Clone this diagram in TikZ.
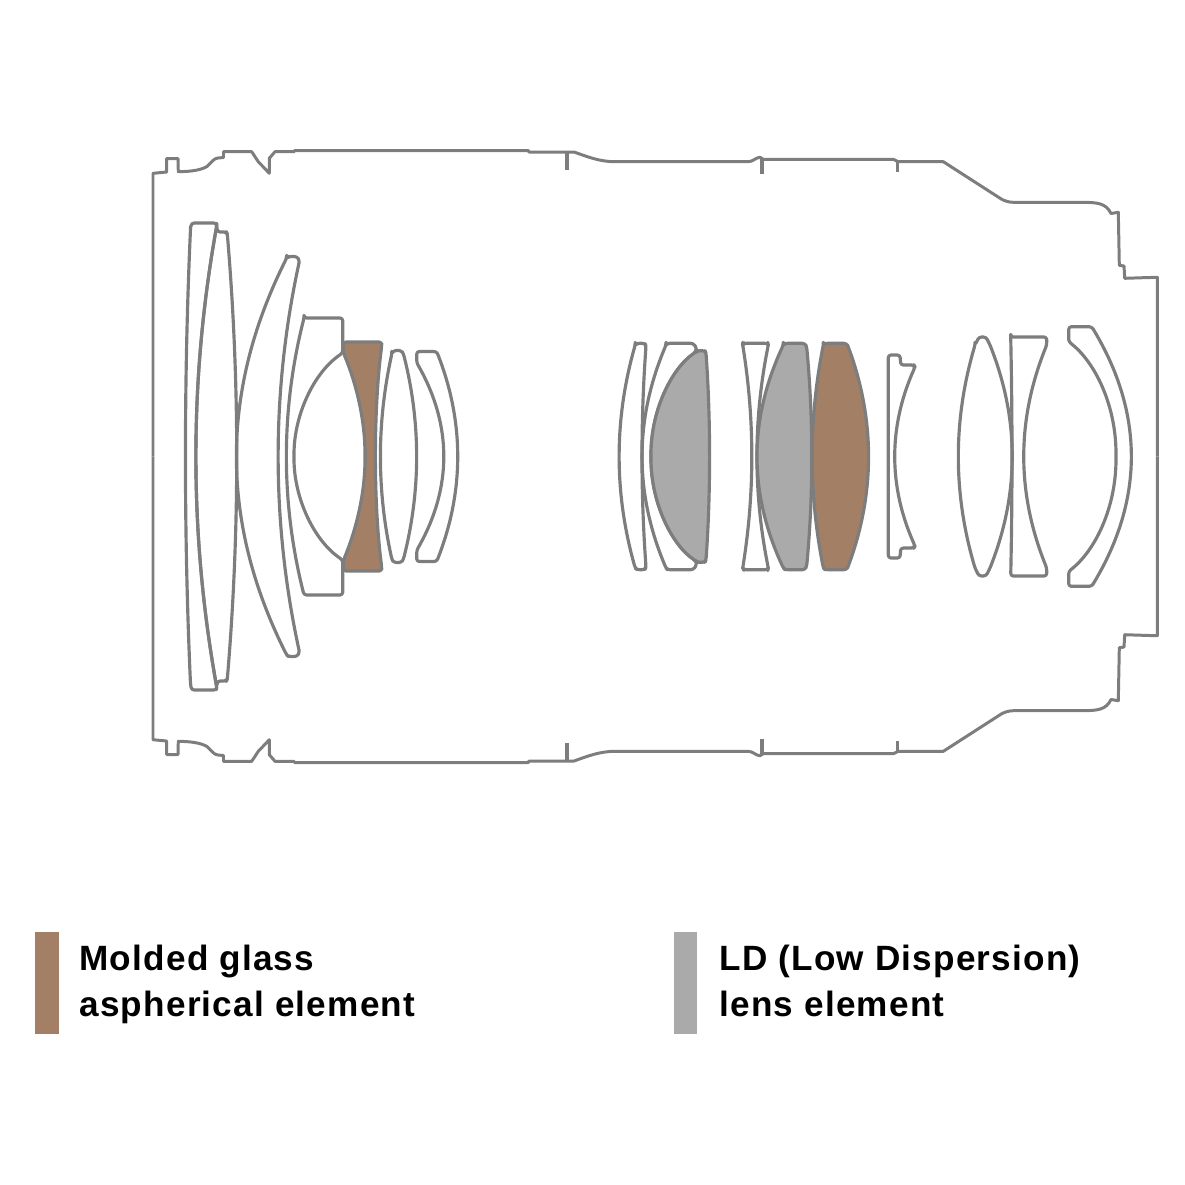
\documentclass[tikz,border=0pt]{standalone}
\usepackage{fontspec}
\newfontfamily\legendfont[LetterSpace=3.5]{Liberation Sans}
\usepackage{xcolor}
\definecolor{myline}{RGB}{125,125,125}
\definecolor{mybrown}{RGB}{163,128,101}
\definecolor{mygray}{RGB}{170,170,170}
\usepackage{tikz}
\usetikzlibrary{positioning}

\tikzset{
	lens/.style={draw=myline,line width=1.8pt,line join=round,rounded corners=1.5pt},
	housing/.style={draw=myline,line width=1.7pt,line join=round},
	swatch/.style={inner sep=0pt,minimum width=0.466cm,minimum height=2.05cm},
	legendtext/.style={align=left,inner sep=0pt,font=\legendfont\bfseries\fontsize{20}{26}\selectfont}
}

% upper half of the barrel, the lower half is its mirror image
\newcommand{\barrelhalf}{
	\draw[housing] (153,456.5) -- (153,173.3) -- (166.7,172) -- (166.7,158.5) -- (178,158.5) -- (178.3,171.7)
		.. controls (192,171.5) and (201,170) .. (207,166.5) .. controls (211,163) and (214,158) .. (218,158)
		-- (223.5,157.5) -- (223.5,151.7) -- (251.7,151.7) -- (258.3,161.7) -- (269.3,173.3) -- (269.3,158.3)
		-- (275,151.7) -- (294.3,151.7) -- (294.3,150.5) -- (528.3,150.5) -- (529,152) -- (574,152)
		.. controls (588,157) and (600,161.7) .. (615,161.7) -- (748.3,161.7)
		.. controls (753,161.7) and (756,157.3) .. (760,157.3) -- (763.3,159.3) -- (893.3,159.3) -- (898.3,161.7)
		-- (943.3,161.7) -- (1001.7,199.3) .. controls (1005,201) and (1009,202.3) .. (1013.3,202.3) -- (1083.3,202.3)
		.. controls (1097,202.5) and (1106,203) .. (1111,213.5) -- (1118.3,212.3) -- (1119.3,265.3) -- (1124,266)
		-- (1124.7,278.3) -- (1143.3,277.7) -- (1157.3,277.3) -- (1157.3,456.5);
	\draw[housing,line width=2.2pt] (567.3,152) -- (567.3,170);
	\draw[housing,line width=2.2pt] (762.3,159.3) -- (762.3,174);
	\draw[housing] (897.3,161.7) -- (897.3,172);
}

\begin{document}
\begin{tikzpicture}[x=0.02cm,y=-0.02cm]
	\useasboundingbox (0,0) rectangle (1185,1184);

	\barrelhalf
	\begin{scope}[shift={(0,913)},yscale=-1]
		\barrelhalf
	\end{scope}

	% front group
	\draw[lens] (216.7,226) -- (217.5,232) -- (226.5,232) -- (227.3,234) .. controls (239.8,383) and (239.8,530) .. (227.3,679)
		-- (226.5,681) -- (217.5,681) -- (216.7,687) .. controls (189.1,533) and (189.1,380) .. cycle;
	\draw[lens] (190.5,229) -- (191.5,223) -- (216.5,223) -- (216.7,226) .. controls (189.1,380) and (189.1,533) .. (216.7,687)
		-- (216.5,690) -- (191.5,690) -- (190.5,684) .. controls (183.8,534) and (183.8,379) .. cycle;
	\draw[lens] (286.7,258) -- (288.5,256.5) -- (297,256.5) -- (299.5,260.7) .. controls (271.2,391) and (271.2,522) .. (299.5,652.3)
		-- (297,656.5) -- (288.5,656.5) -- (286.7,655) .. controls (220,522) and (220,391) .. cycle;
	\draw[lens] (304,318) -- (342.7,318) -- (342.7,353) .. controls (314,372) and (294,415) .. (294,456.5)
		.. controls (294,498) and (314,541) .. (342.7,560) -- (342.7,595) -- (304,595) .. controls (280.7,502.5) and (280.7,410.5) .. cycle;
	\draw[lens,fill=mybrown] (343.5,342) -- (381.7,342) -- (381.7,346) .. controls (373.4,410) and (373.4,503) .. (381.7,567)
		-- (381.7,571) -- (343.5,571) -- (343.5,560) .. controls (356,530) and (365,494) .. (365,456.5)
		.. controls (365,419) and (356,383) .. (343.5,353) -- cycle;
	\draw[lens] (391.8,354) -- (393.5,350.5) -- (401.5,350.5) -- (403.5,354) .. controls (420.8,423) and (420.8,490) .. (403.5,559)
		-- (401.5,562.5) -- (393.5,562.5) -- (391.8,559) .. controls (376.8,490) and (376.8,423) .. cycle;
	\draw[lens] (416.7,351.5) -- (436.7,351.5) .. controls (464.4,421.8) and (464.4,491.2) .. (436.7,561.5)
		-- (416.7,561.5) -- (416.7,550.3) .. controls (452.4,487.8) and (452.4,425.2) .. (416.7,362.7) -- cycle;

	% rear group
	\draw[lens] (635.2,345) -- (637,343.3) -- (645,343.3) -- (646,346) .. controls (640.7,420) and (640.7,493) .. (646,567)
		-- (645,569.7) -- (637,569.7) -- (635.2,568) .. controls (614,493) and (614,420) .. cycle;
	\draw[lens] (666,345) -- (667.5,343.3) -- (693.3,343.3) -- (696.7,348.3) -- (696,352) .. controls (672,368) and (651,410) .. (651,456.5)
		.. controls (651,503) and (672,545) .. (696,561) -- (696.7,564.7) -- (693.3,569.7) -- (667.5,569.7) -- (666,568)
		.. controls (634.4,493) and (634.4,420) .. cycle;
	\draw[lens,fill=mygray] (696,352) -- (697.5,350.7) -- (705,350.7) -- (706,353) .. controls (710.7,420) and (710.7,493) .. (706,560)
		-- (705,562.3) -- (697.5,562.3) -- (696,561) .. controls (672,545) and (651,503) .. (651,456.5)
		.. controls (651,410) and (672,368) .. cycle;
	\draw[lens] (742.7,345) -- (743.5,343.3) -- (768,343.3) -- (768.3,345) .. controls (753.3,420) and (753.3,493) .. (768.3,568)
		-- (768,569.7) -- (743.5,569.7) -- (742.7,568) .. controls (754.7,493) and (754.7,420) .. cycle;
	\draw[lens,fill=mygray] (783.3,345) -- (785,343.3) -- (805,343.3) -- (806.7,347) .. controls (813.4,420) and (813.4,493) .. (806.7,566)
		-- (805,569.7) -- (785,569.7) -- (783.3,568) .. controls (748.6,493) and (748.6,420) .. cycle;
	\draw[lens,fill=mybrown] (823.3,345) -- (825,343.3) -- (846.7,343.3) -- (848.3,347) .. controls (875,420) and (875,493) .. (848.3,566)
		-- (846.7,569.7) -- (825,569.7) -- (823.3,568) .. controls (808.6,493) and (808.6,420) .. cycle;
	\draw[lens] (888.3,355) -- (900,355) -- (900.7,365) -- (914,365) -- (915,367) .. controls (888.3,426.7) and (888.3,486.3) .. (915,546)
		-- (914,548) -- (900.7,548) -- (900,558) -- (888.3,558) -- cycle;
	\draw[lens] (975,345) -- (979,337) -- (986,337) -- (990,345) .. controls (1019.3,420) and (1019.3,493) .. (990,568)
		-- (986,576) -- (979,576) -- (975,568) .. controls (953,493) and (953,420) .. cycle;
	\draw[lens] (1010.7,337) -- (1046.7,337) -- (1046.7,345) .. controls (1016.4,420) and (1016.4,493) .. (1046.7,568)
		-- (1046.7,576) -- (1010.7,576) .. controls (1012.4,495) and (1012.4,418) .. cycle;
	\draw[lens] (1068.7,341.7) -- (1068.7,326.7) -- (1091.7,326.7) .. controls (1144.1,413) and (1144.1,500) .. (1091.7,586.3)
		-- (1068.7,586.3) -- (1068.7,571.3) .. controls (1095,551) and (1116,508) .. (1116,456.5)
		.. controls (1116,405) and (1095,362) .. cycle;

	% legend
	\node[swatch,fill=mybrown] (swatchA) at (47,983) {};
	\node[swatch,fill=mygray] (swatchB) at (685.7,983) {};
	\node[legendtext,anchor=base west] (textA) at (79,1016) {Molded glass\\aspherical element};
	\node[legendtext,anchor=base west] (textB) at (719,1016) {LD (Low Dispersion)\\lens element};
\end{tikzpicture}
\end{document}
